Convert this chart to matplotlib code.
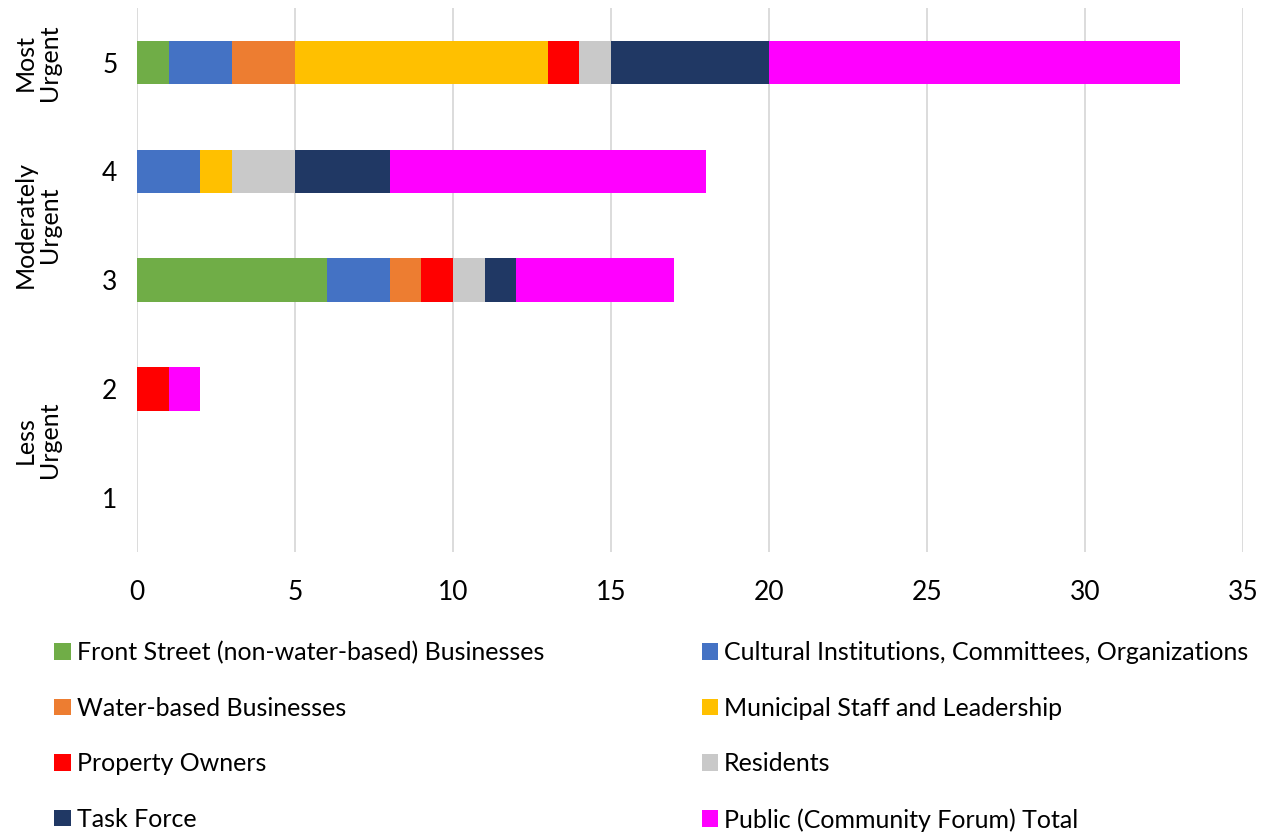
import matplotlib.pyplot as plt
import numpy as np

levels = [1, 2, 3, 4, 5]
groups = ["Front Street (non-water-based) Businesses",
          "Cultural Institutions, Committees, Organizations",
          "Water-based Businesses",
          "Municipal Staff and Leadership",
          "Property Owners",
          "Residents",
          "Task Force",
          "Public (Community Forum) Total"]
# counts per urgency level 1..5
front_street = [0, 0, 6, 0, 1]
cultural = [0, 0, 2, 2, 2]
water_based = [0, 0, 1, 0, 2]
municipal = [0, 0, 0, 1, 8]
property_owners = [0, 1, 1, 0, 1]
residents = [0, 0, 1, 2, 1]
task_force = [0, 0, 1, 3, 5]
public_total = [0, 1, 5, 10, 13]

series = [front_street, cultural, water_based, municipal,
          property_owners, residents, task_force, public_total]
colors = ["#70AD47", "#4472C4", "#ED7D31", "#FFC000",
          "#FF0000", "#C9C9C9", "#203864", "#FF00FF"]

plt.rcParams['font.family'] = ['Lato', 'DejaVu Sans']

fig = plt.figure(figsize=(12.74, 8.34), dpi=100)
ax = fig.add_axes([0.1075, 0.338, 0.868, 0.652])

left = np.zeros(len(levels))
handles = []
for vals, name, c in zip(series, groups, colors):
    h = ax.barh(levels, vals, left=left, height=0.4, color=c, label=name, zorder=3)
    handles.append(h)
    left += np.array(vals)

ax.set_xlim(0, 35)
ax.set_ylim(0.5, 5.5)
ax.set_xticks(range(0, 36, 5))
ax.set_yticks(levels)
ax.tick_params(axis='both', length=0, labelsize=19)
ax.tick_params(axis='x', pad=20)
ax.tick_params(axis='y', pad=14)
ax.grid(axis='x', color='#D9D9D9', linewidth=1.3, zorder=0)
for s in ax.spines.values():
    s.set_visible(False)

trans = ax.get_yaxis_transform()
for txt, y in [("Most\nUrgent", 5.0), ("Moderately\nUrgent", 3.51), ("Less\nUrgent", 1.53)]:
    ax.text(-0.09, y, txt, transform=trans, rotation=90, ha='center', va='center',
            fontsize=18, linespacing=1.05)

order = [0, 2, 4, 6, 1, 3, 5, 7]
fig.legend([handles[i] for i in order], [groups[i] for i in order],
           ncol=2, loc='lower left', bbox_to_anchor=(0.025, -0.024),
           frameon=False, fontsize=18, handlelength=0.65, handleheight=0.65,
           handletextpad=0.25, columnspacing=6.3, labelspacing=1.3)

fig.savefig("out.png", dpi=100)
